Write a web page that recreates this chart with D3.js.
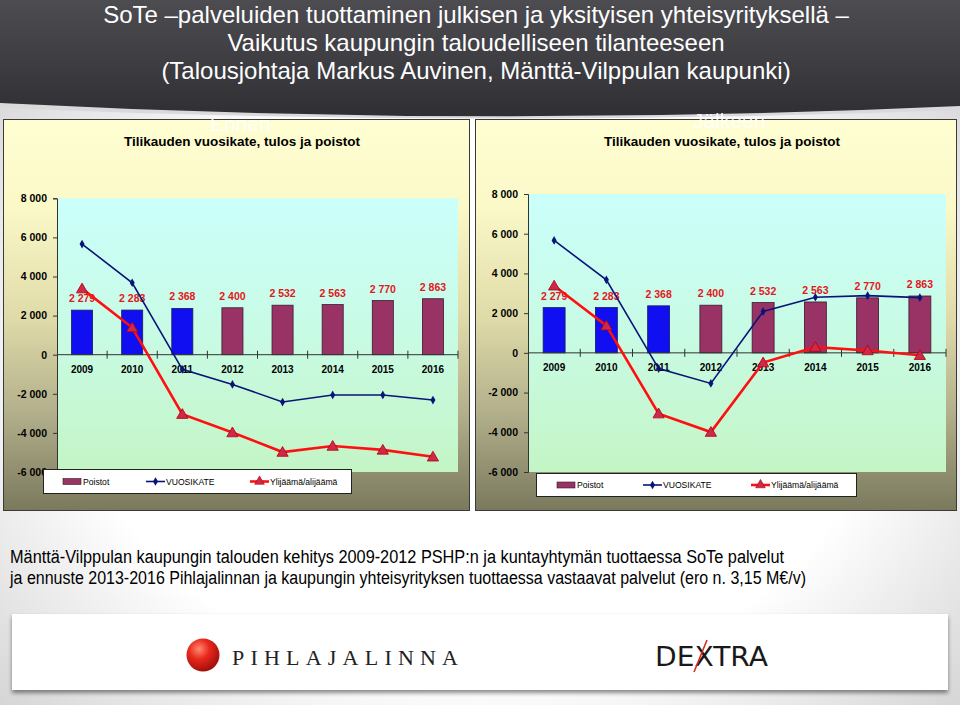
<!DOCTYPE html>
<html><head><meta charset="utf-8">
<script src="https://cdn.jsdelivr.net/npm/d3@7"></script>
<style>html,body{margin:0;padding:0;background:#fff;}svg{display:block;}</style>
</head><body>
<svg id="c" width="960" height="705"></svg>
<script>
// ---------------- data ----------------
const titleLines = [
  "SoTe \u2013palveluiden tuottaminen julkisen ja yksityisen yhteisyrityksellä \u2013",
  "Vaikutus kaupungin taloudelliseen tilanteeseen",
  "(Talousjohtaja Markus Auvinen, Mänttä-Vilppulan kaupunki)"
];
const chartTitle = "Tilikauden vuosikate, tulos ja poistot";
const panelNames = ["Ennen", "Jälkeen"];
const years = ["2009","2010","2011","2012","2013","2014","2015","2016"];
const poistot = [2279, 2283, 2368, 2400, 2532, 2563, 2770, 2863];
const vuosikateEnnen = [5660, 3680, -750, -1520, -2420, -2060, -2060, -2320];
const ylijaamaEnnen  = [3380, 1390, -3040, -3980, -4980, -4670, -4870, -5220];
const vuosikateJalkeen = [5660, 3680, -790, -1540, 2080, 2800, 2880, 2780];
const ylijaamaJalkeen  = [3380, 1370, -3060, -3990, -490, 290, 120, -120];
const yTicks = [-6000, -4000, -2000, 0, 2000, 4000, 6000, 8000];
const legendLabels = ["Poistot", "VUOSIKATE", "Ylijäämä/alijäämä"];
const footerLines = [
  "Mänttä-Vilppulan kaupungin talouden kehitys 2009-2012 PSHP:n ja kuntayhtymän tuottaessa SoTe palvelut",
  "ja ennuste 2013-2016 Pihlajalinnan ja kaupungin yhteisyrityksen tuottaessa vastaavat palvelut (ero n. 3,15 M\u20ac/v)"
];

// ---------------- drawing ----------------
const svg = d3.select("#c");
const FONT = "'Liberation Sans', Arial, Helvetica, sans-serif";
const defs = svg.append("defs");

function lin(id, stops, vertical=true) {
  const g = defs.append("linearGradient").attr("id", id)
    .attr("x1",0).attr("y1",0).attr("x2", vertical?0:1).attr("y2", vertical?1:0);
  stops.forEach(s => g.append("stop").attr("offset", s[0]).attr("stop-color", s[1]));
}
lin("hdr", [[0,"#4c4c51"],[0.6,"#3b3b40"],[1,"#2e2e33"]]);
lin("panel", [[0,"#fffed2"],[0.22,"#fbf9c8"],[0.5,"#e0dcaa"],[0.75,"#b2af8b"],[1,"#7b795d"]]);
lin("plot", [[0,"#cbfffb"],[0.5,"#c8fbe4"],[1,"#c4f5c6"]]);
const rg = defs.append("radialGradient").attr("id","bg").attr("cx","50%").attr("cy","55%").attr("r","75%");
rg.append("stop").attr("offset",0.55).attr("stop-color","#ffffff");
rg.append("stop").attr("offset",1).attr("stop-color","#c9c9cb");
const sh = defs.append("filter").attr("id","shadow").attr("x","-5%").attr("y","-10%").attr("width","110%").attr("height","130%");
sh.append("feDropShadow").attr("dx",0).attr("dy",3).attr("stdDeviation",2).attr("flood-color","#000").attr("flood-opacity",0.45);

// background
svg.append("rect").attr("width",960).attr("height",705).attr("fill","url(#bg)");
svg.append("path").attr("d","M0,0 H960 V110 Q480,128 0,108 Z").attr("fill","#d9d9dc");
svg.append("path").attr("d","M0,0 H960 V106 Q480,128 0,103 Z").attr("fill","url(#hdr)");

// header title
svg.append("g").selectAll("text").data(titleLines).join("text")
  .attr("x", 476).attr("y", (d,i) => 22.5 + i*28)
  .attr("text-anchor","middle").attr("fill","#ffffff")
  .attr("font-family", FONT).attr("font-size", 24)
  .text(d => d);

const fmt = v => d3.format(",")(v).replace(/,/g, " ").replace("\u2212","-");

function makeChart(cfg) {
  const g = svg.append("g");
  // panel
  g.append("rect").attr("x", cfg.px).attr("y", cfg.py).attr("width", cfg.pw).attr("height", cfg.ph)
    .attr("fill","url(#panel)").attr("stroke","#3a3a3a").attr("stroke-width",1);
  // faint panel name
  g.append("text").attr("x", cfg.nameX).attr("y", cfg.nameY).attr("text-anchor","middle")
    .attr("font-family", FONT).attr("font-size", 21).attr("fill","#ffffff").attr("opacity",0.85)
    .text(cfg.name);
  g.append("text").attr("x", cfg.titleX).attr("y", 146).attr("text-anchor","middle")
    .attr("font-family", FONT).attr("font-size", 13.5).attr("font-weight","bold").attr("fill","#000")
    .text(chartTitle);

  const x = d3.scaleBand().domain(years).range([cfg.x0, cfg.x1]).paddingInner(0.58).paddingOuter(0.29);
  const y = d3.scaleLinear().domain([-6000, 8000]).range([cfg.yBot, cfg.yTop]);
  const step = x.step();

  // plot area
  g.append("rect").attr("x", cfg.x0).attr("y", y(8000)).attr("width", cfg.x1 - cfg.x0)
    .attr("height", y(-6000) - y(8000)).attr("fill","url(#plot)");

  // y axis
  const ya = g.append("g").attr("transform", `translate(${cfg.x0},0)`)
    .call(d3.axisLeft(y).tickValues(yTicks).tickFormat(fmt).tickSize(4).tickPadding(6));
  ya.select(".domain").attr("stroke","#333").attr("stroke-width",1);
  ya.selectAll(".tick line").attr("stroke","#333");
  ya.selectAll(".tick text").attr("font-family", FONT).attr("font-size", 10.5).attr("font-weight","bold").attr("fill","#000");

  // bars
  g.append("g").selectAll("rect").data(poistot).join("rect")
    .attr("x", (d,i) => x(years[i])).attr("width", x.bandwidth())
    .attr("y", d => y(d)).attr("height", d => y(0) - y(d))
    .attr("fill", (d,i) => i < 3 ? "#0f0ff2" : "#993366")
    .attr("stroke", (d,i) => i < 3 ? "#1a1a60" : "#3a1a2a").attr("stroke-width", 0.8);

  // x axis line & boundary ticks
  g.append("line").attr("x1", cfg.x0).attr("x2", cfg.x1).attr("y1", y(0)).attr("y2", y(0))
    .attr("stroke","#333").attr("stroke-width",1);
  g.append("g").selectAll("line").data(years).join("line")
    .attr("x1", d => x(d) + x.bandwidth() + (step - x.bandwidth())/2)
    .attr("x2", d => x(d) + x.bandwidth() + (step - x.bandwidth())/2)
    .attr("y1", y(0) - 4).attr("y2", y(0) + 4).attr("stroke","#333");
  const xa = g.append("g").attr("transform", `translate(0,${y(0)})`)
    .call(d3.axisBottom(x).tickSize(0).tickPadding(11));
  xa.select(".domain").remove();
  xa.selectAll(".tick text").attr("font-family", FONT).attr("font-size", 10).attr("font-weight","bold").attr("fill","#000");

  // data labels
  g.append("g").selectAll("text").data(poistot).join("text")
    .attr("x", (d,i) => x(years[i]) + x.bandwidth()/2).attr("y", d => y(d) - 8)
    .attr("text-anchor","middle").attr("font-family", FONT).attr("font-size", 10.5)
    .attr("font-weight","bold").attr("fill","#e3161c").text(fmt);

  const cx = i => x(years[i]) + x.bandwidth()/2;
  const line = d3.line().x((d,i) => cx(i)).y(d => y(d));

  // VUOSIKATE line
  g.append("path").attr("d", line(cfg.vk)).attr("fill","none").attr("stroke","#0a1478").attr("stroke-width",1.6);
  g.append("g").selectAll("path").data(cfg.vk).join("path")
    .attr("d", d3.symbol(d3.symbolDiamond, 22))
    .attr("transform", (d,i) => `translate(${cx(i)},${y(d)})`).attr("fill","#0a1478");

  // Ylijäämä line
  g.append("path").attr("d", line(cfg.yl)).attr("fill","none").attr("stroke","#ff1010").attr("stroke-width",2.6);
  g.append("g").selectAll("path").data(cfg.yl).join("path")
    .attr("d", d3.symbol(d3.symbolTriangle, 55))
    .attr("transform", (d,i) => `translate(${cx(i)},${y(d)+1})`)
    .attr("fill","#d02848").attr("stroke","#b00010").attr("stroke-width",0.8);

  // legend
  const L = cfg.leg;
  const lg = g.append("g");
  lg.append("rect").attr("x", L.x).attr("y", L.y).attr("width", L.w).attr("height", L.h)
    .attr("fill","#fff").attr("stroke","#222").attr("stroke-width",1);
  const ly = L.y + L.h/2;
  lg.append("rect").attr("x", L.items[0]).attr("y", ly - 3).attr("width", 18).attr("height", 6)
    .attr("fill","#993366").attr("stroke","#3a1a2a").attr("stroke-width",0.6);
  lg.append("line").attr("x1", L.items[1]).attr("x2", L.items[1] + 19).attr("y1", ly).attr("y2", ly)
    .attr("stroke","#0a1478").attr("stroke-width",1.6);
  lg.append("path").attr("d", d3.symbol(d3.symbolDiamond, 22)).attr("transform", `translate(${L.items[1]+9.5},${ly})`).attr("fill","#0a1478");
  lg.append("line").attr("x1", L.items[2]).attr("x2", L.items[2] + 19).attr("y1", ly).attr("y2", ly)
    .attr("stroke","#ff1010").attr("stroke-width",2.6);
  lg.append("path").attr("d", d3.symbol(d3.symbolTriangle, 40)).attr("transform", `translate(${L.items[2]+9.5},${ly})`)
    .attr("fill","#d02848").attr("stroke","#b00010").attr("stroke-width",0.6);
  lg.selectAll("text.l").data(legendLabels).join("text").attr("class","l")
    .attr("x", (d,i) => L.items[i] + 20).attr("y", ly + 3.2)
    .attr("font-family", FONT).attr("font-size", 8.6).attr("fill","#000").text(d => d);
}

makeChart({
  px: 3.5, py: 119.5, pw: 466, ph: 391, name: panelNames[0], nameX: 240, nameY: 131, titleX: 242,
  x0: 57, x1: 458, yTop: 198.3, yBot: 472,
  vk: vuosikateEnnen, yl: ylijaamaEnnen,
  leg: {x: 43.5, y: 469.5, w: 308, h: 24, items: [63, 146, 250]}
});
makeChart({
  px: 475.5, py: 119.5, pw: 481, ph: 391, name: panelNames[1], nameX: 729, nameY: 128, titleX: 722,
  x0: 528, x1: 946, yTop: 194, yBot: 472,
  vk: vuosikateJalkeen, yl: ylijaamaJalkeen,
  leg: {x: 536.5, y: 473.5, w: 320, h: 23, items: [557, 643, 751]}
});

// footer text
svg.append("g").selectAll("text").data(footerLines).join("text")
  .attr("x", 10).attr("y", (d,i) => 563 + i*21)
  .attr("font-family", FONT).attr("font-size", 18).attr("fill","#000")
  .attr("textLength", (d,i) => i === 0 ? 774 : 796).attr("lengthAdjust","spacingAndGlyphs")
  .text(d => d);

// logo box
svg.append("rect").attr("x", 12).attr("y", 614).attr("width", 936).attr("height", 76)
  .attr("fill","#ffffff").attr("filter","url(#shadow)");
const sg = defs.append("radialGradient").attr("id","sphere").attr("cx","38%").attr("cy","32%").attr("r","70%");
sg.append("stop").attr("offset",0).attr("stop-color","#ff8a70");
sg.append("stop").attr("offset",0.45).attr("stop-color","#e8281c");
sg.append("stop").attr("offset",1).attr("stop-color","#a00e0a");
svg.append("circle").attr("cx", 203).attr("cy", 655).attr("r", 16.5).attr("fill","url(#sphere)");
svg.append("text").attr("x", 232).attr("y", 664.5).attr("font-family","'Liberation Serif','DejaVu Serif',serif")
  .attr("font-size", 22).attr("fill","#222").attr("textLength", 226).attr("lengthAdjust","spacing")
  .text("PIHLAJALINNA");
svg.append("text").attr("x", 655).attr("y", 666).attr("font-family", "'DejaVu Sans', " + FONT)
  .attr("font-size", 27).attr("fill","#1a1a1a").attr("textLength", 113).attr("lengthAdjust","spacingAndGlyphs")
  .text("DEXTRA");
svg.append("line").attr("x1", 694).attr("y1", 672).attr("x2", 707).attr("y2", 640)
  .attr("stroke","#d8281c").attr("stroke-width",1.6);
</script>
</body></html>
